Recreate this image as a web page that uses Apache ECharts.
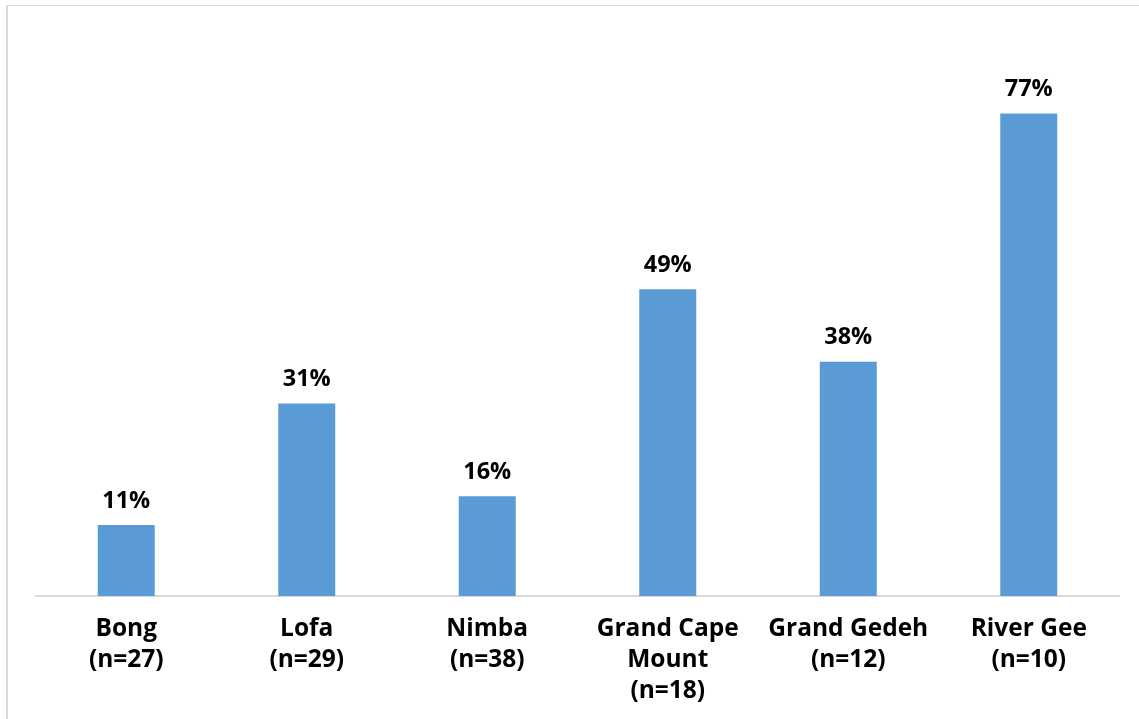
<!DOCTYPE html>
<html>
<head>
<meta charset="utf-8">
<script src="https://cdn.jsdelivr.net/npm/echarts@6/dist/echarts.min.js"></script>
<style>
  html, body { margin: 0; padding: 0; background: #fff; }
  #chart { width: 1139px; height: 719px; }
  #frame { position: absolute; left: 6px; top: 5px; width: 1133px; height: 714px;
           border-left: 2px solid #d9d9d9; border-top: 1px solid #d9d9d9; box-sizing: border-box; pointer-events: none; }
</style>
</head>
<body>
<div id="chart"></div>
<div id="frame"></div>
<script>
const categories = ['Bong\n(n=27)', 'Lofa\n(n=29)', 'Nimba\n(n=38)', 'Grand Cape\nMount\n(n=18)', 'Grand Gedeh\n(n=12)', 'River Gee\n(n=10)'];
const values = [11.4, 30.9, 16.0, 49.2, 37.6, 77.4];

const chart = echarts.init(document.getElementById('chart'));
const font = '"Open Sans", Lato, sans-serif';
chart.setOption({
  animation: false,
  grid: { left: 36, right: 20, top: 35, bottom: 123 },
  xAxis: {
    type: 'category',
    data: categories,
    axisLine: { lineStyle: { color: '#d9d9d9', width: 2 } },
    axisTick: { show: false },
    axisLabel: { color: '#000', fontFamily: font, fontWeight: 'bold', fontSize: 24.5, lineHeight: 31, margin: 18, interval: 0 }
  },
  yAxis: {
    type: 'value', min: 0, max: 90,
    show: false
  },
  series: [{
    type: 'bar',
    data: values,
    barWidth: 57,
    itemStyle: { color: '#5B9BD5' },
    label: {
      show: true, position: 'top', distance: 12,
      color: '#000', fontFamily: font, fontWeight: 'bold', fontSize: 23.5,
      formatter: p => Math.round(p.value) + '%'
    }
  }]
});
</script>
</body>
</html>
